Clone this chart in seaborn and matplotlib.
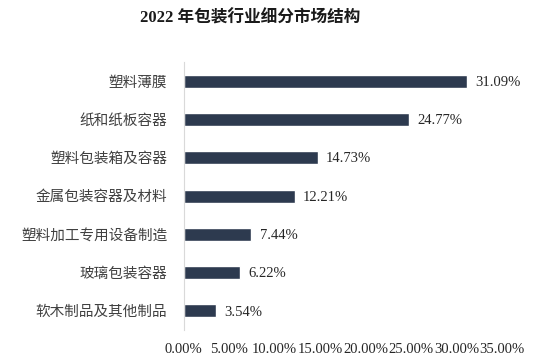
import matplotlib
matplotlib.use("Agg")
import matplotlib.pyplot as plt
import seaborn as sns
import pandas as pd
from matplotlib.ticker import FuncFormatter

categories = ["塑料薄膜", "纸和纸板容器", "塑料包装箱及容器", "金属包装容器及材料",
              "塑料加工专用设备制造", "玻璃包装容器", "软木制品及其他制品"]
shares = [31.09, 24.77, 14.73, 12.21, 7.44, 6.22, 3.54]
xticks = [0, 5, 10, 15, 20, 25, 30, 35]

sns.set_style("white")
plt.rcParams['font.family'] = ['Liberation Serif', 'Noto Sans CJK SC']

df = pd.DataFrame({"category": categories, "share": shares})

fig = plt.figure(figsize=(5.47, 3.62), dpi=100)
ax = fig.add_axes([0.336, 0.088, 0.582, 0.741])
sns.barplot(data=df, x="share", y="category", color="#2d3a4f", width=0.34,
            saturation=1, ax=ax)

for i, v in enumerate(shares):
    ax.text(v + 0.9, i + 0.03, f"{v:.2f}%", va="center", ha="left", fontsize=10.5, color="#262626")

ax.set_xlim(0, 35)
ax.set_ylim(6.5, -0.5)
ax.set_xticks(xticks)
ax.xaxis.set_major_formatter(FuncFormatter(lambda x, p: f"{x:.2f}%"))
ax.tick_params(axis="x", length=0, pad=9, labelsize=10.5, colors="#262626")
ax.tick_params(axis="y", length=0, pad=12, labelsize=10.5, colors="#404040")
ax.set_xlabel("")
ax.set_ylabel("")
for s in ["top", "right", "bottom"]:
    ax.spines[s].set_visible(False)
ax.spines["left"].set_color("#d9d9d9")
ax.spines["left"].set_linewidth(0.8)

fig.text(0.457, 0.95, "2022 年包装行业细分市场结构", ha="center", va="center",
         fontsize=12, fontweight="bold", color="#1a1a1a")

fig.savefig("out.png", dpi=100)
